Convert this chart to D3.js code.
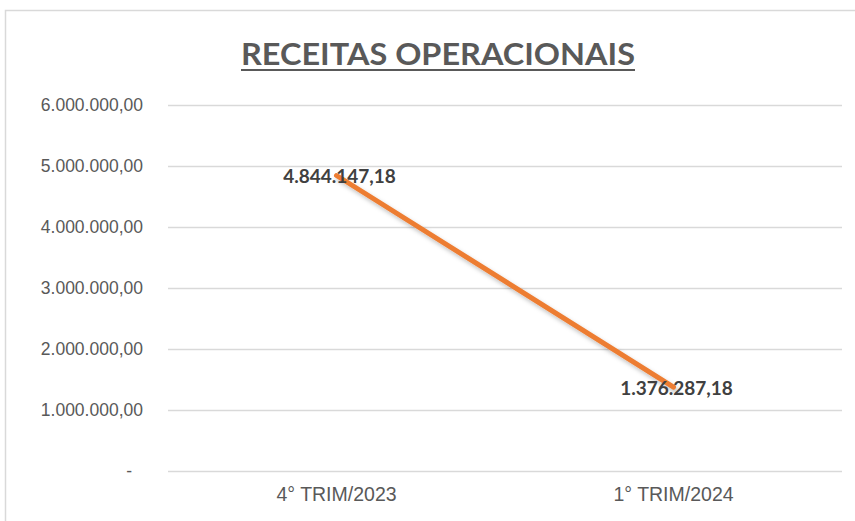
<!DOCTYPE html>
<html>
<head>
<meta charset="utf-8">
<script src="https://cdn.jsdelivr.net/npm/d3@7"></script>
<style>
  body { margin: 0; background: #fff; }
  svg { display: block; font-family: Lato, "Noto Sans", sans-serif; }
</style>
</head>
<body>
<div id="chart"></div>
<script>
// Receitas operacionais por trimestre
const categories = ['4° TRIM/2023', '1° TRIM/2024'];
const values = [4844147.18, 1376287.18];
const yTicks = [0, 1000000, 2000000, 3000000, 4000000, 5000000, 6000000];

const W = 855, H = 521;
const margin = { top: 105, right: 13, bottom: 50, left: 168 };
const width = W - margin.left - margin.right;
const height = H - margin.top - margin.bottom;

// pt-BR number format
const ptBR = d3.formatLocale({ decimal: ',', thousands: '.', grouping: [3], currency: ['R$', ''] });
const fmt = ptBR.format(',.2f');

const svg = d3.select('#chart').append('svg')
  .attr('width', W)
  .attr('height', H);

// chart frame
svg.append('rect')
  .attr('x', 5.5).attr('y', 10.5)
  .attr('width', W + 10).attr('height', H + 10)
  .attr('fill', 'none')
  .attr('stroke', '#d9d9d9')
  .attr('stroke-width', 1.5);

const defs = svg.append('defs');
const shadow = defs.append('filter').attr('id', 'shadow')
  .attr('x', '-10%').attr('y', '-10%').attr('width', '130%').attr('height', '130%');
shadow.append('feDropShadow')
  .attr('dx', 2).attr('dy', 3).attr('stdDeviation', 2)
  .attr('flood-color', '#000').attr('flood-opacity', 0.25);

const g = svg.append('g')
  .attr('transform', `translate(${margin.left},${margin.top})`);

const x = d3.scaleBand().domain(categories).range([0, width]);
const y = d3.scaleLinear().domain([0, 6000000]).range([height, 0]);

// gridlines
g.append('g')
  .selectAll('line')
  .data(yTicks)
  .enter().append('line')
  .attr('x1', 0).attr('x2', width)
  .attr('y1', d => Math.round(y(d)) + 0.5)
  .attr('y2', d => Math.round(y(d)) + 0.5)
  .attr('stroke', '#d9d9d9')
  .attr('stroke-width', 1.3);

// y axis labels
const yAxis = d3.axisLeft(y)
  .tickValues(yTicks)
  .tickSize(0)
  .tickPadding(25)
  .tickFormat(d => d === 0 ? '-' : fmt(d));

const yg = g.append('g').call(yAxis);
yg.select('.domain').remove();
yg.selectAll('text')
  .attr('fill', '#595959')
  .style('font-size', '17.5px')
  .attr('dx', d => d === 0 ? -11 : 0);

// x axis labels
const xAxis = d3.axisBottom(x).tickSize(0).tickPadding(16);
const xg = g.append('g').attr('transform', `translate(0,${height})`).call(xAxis);
xg.select('.domain').remove();
xg.selectAll('text')
  .attr('fill', '#595959')
  .style('font-size', '19.5px');

// line
const pts = categories.map((c, i) => ({ cat: c, value: values[i] }));
const line = d3.line()
  .x(d => x(d.cat) + x.bandwidth() / 2)
  .y(d => y(d.value));

g.append('path')
  .datum(pts)
  .attr('d', line)
  .attr('fill', 'none')
  .attr('stroke', '#ed7d31')
  .attr('stroke-width', 5)
  .attr('stroke-linecap', 'round')
  .attr('filter', 'url(#shadow)');

// data labels
g.selectAll('.label')
  .data(pts)
  .enter().append('text')
  .attr('class', 'label')
  .attr('x', d => x(d.cat) + x.bandwidth() / 2 + 3)
  .attr('y', d => y(d.value) + 1)
  .attr('dy', '0.35em')
  .attr('text-anchor', 'middle')
  .attr('fill', '#404040')
  .style('font-size', '19px')
  .style('font-weight', 'bold')
  .text(d => fmt(d.value));

// title
const title = svg.append('text')
  .attr('x', 438)
  .attr('y', 65)
  .attr('text-anchor', 'middle')
  .attr('fill', '#595959')
  .style('font-size', '30px')
  .style('font-weight', 'bold')
  .attr('textLength', 394)
  .attr('lengthAdjust', 'spacingAndGlyphs')
  .text('RECEITAS OPERACIONAIS');

svg.append('line')
  .attr('x1', 241).attr('x2', 635)
  .attr('y1', 70).attr('y2', 70)
  .attr('stroke', '#595959')
  .attr('stroke-width', 2);
</script>
</body>
</html>
